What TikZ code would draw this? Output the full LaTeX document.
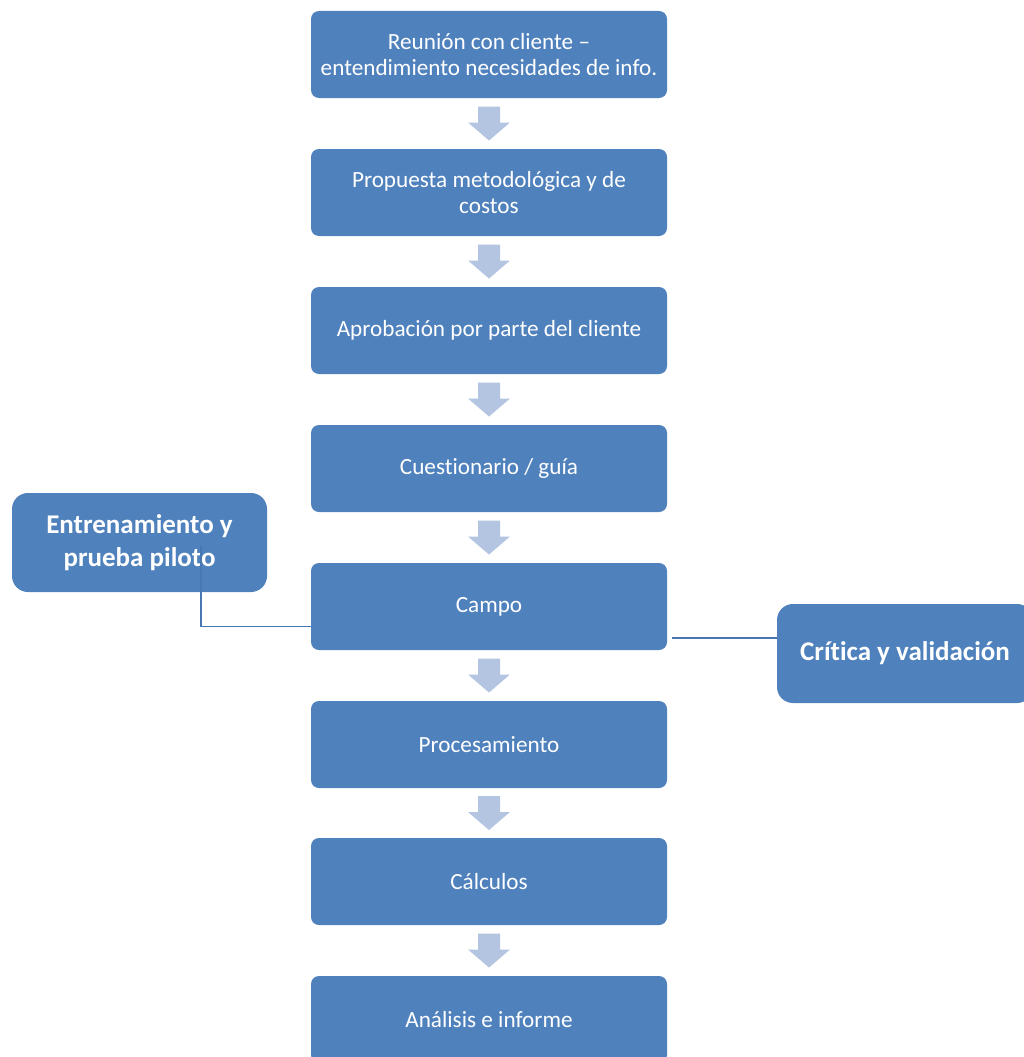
\documentclass[tikz,border=0pt]{standalone}
\usepackage{fontspec}
\setmainfont{Carlito}[Ligatures=NoCommon]
\usetikzlibrary{calc}
\definecolor{boxblue}{RGB}{79,129,189}
\definecolor{linkblue}{RGB}{72,120,178}
\definecolor{arrowblue}{RGB}{180,197,225}
\tikzset{
  stepbox/.style={fill=boxblue, rounded corners=8pt, minimum width=356pt, minimum height=87pt,
    text=white, align=center, inner sep=0pt, font=\fontsize{23.2}{25.5}\selectfont},
  sidebox/.style={fill=boxblue, rounded corners=16pt, minimum height=99pt,
    text=white, align=center, inner sep=0pt, font=\bfseries\fontsize{27}{33}\selectfont},
  link/.style={draw=linkblue, line width=1.4pt},
  downarrow/.style={fill=arrowblue}
}
\begin{document}
\begin{tikzpicture}[x=1pt, y=-1pt]
\useasboundingbox (0,0) rectangle (1024,1057);
\clip (0,0) rectangle (1024,1057);
\fill[white] (0,0) rectangle (1024,1057);

% main sequence of steps
\node[stepbox] (b1) at (489,54.5) {Reunión con cliente –\\entendimiento necesidades de info.};
\node[stepbox] (b2) at (489,192.5) {Propuesta metodológica y de\\costos};
\node[stepbox] (b3) at (489,330.5) {Aprobación por parte del cliente};
\node[stepbox] (b4) at (489,468.5) {Cuestionario / guía};
\node[stepbox] (b5) at (489,606.5) {Campo};
\node[stepbox] (b6) at (489,744.5) {Procesamiento};
\node[stepbox] (b7) at (489,881.5) {Cálculos};
\node[stepbox] (b8) at (489,1019.5) {Análisis e informe};

% side activities attached to the field stage
\node[sidebox, minimum width=255pt] (lb) at (139.5,542.5) {Entrenamiento y\\prueba piloto};
\node[sidebox, minimum width=256pt] (rb) at (905,653.5) {Crítica y validación};

% block arrows between consecutive steps
\foreach \a/\b in {b1/b2,b2/b3,b3/b4,b4/b5,b5/b6,b6/b7,b7/b8}{
  \fill[downarrow] ($(\a.south)!0.5!(\b.north)$) ++(-11,-17) -- ++(22,0) -- ++(0,16)
    -- ++(10,0) -- ++(-21,18) -- ++(-21,-18) -- ++(10,0) -- cycle;
}

% connectors to the side boxes
\coordinate (ls) at ([xshift=61.5pt,yshift=-3pt]lb.center);
\coordinate (le) at ([yshift=-20pt]b5.west);
\draw[link] (ls) |- (le);
\coordinate (rs) at ([xshift=5pt,yshift=-31.5pt]b5.east);
\draw[link] (rs) -- (rs -| rb.west);
\end{tikzpicture}
\end{document}
